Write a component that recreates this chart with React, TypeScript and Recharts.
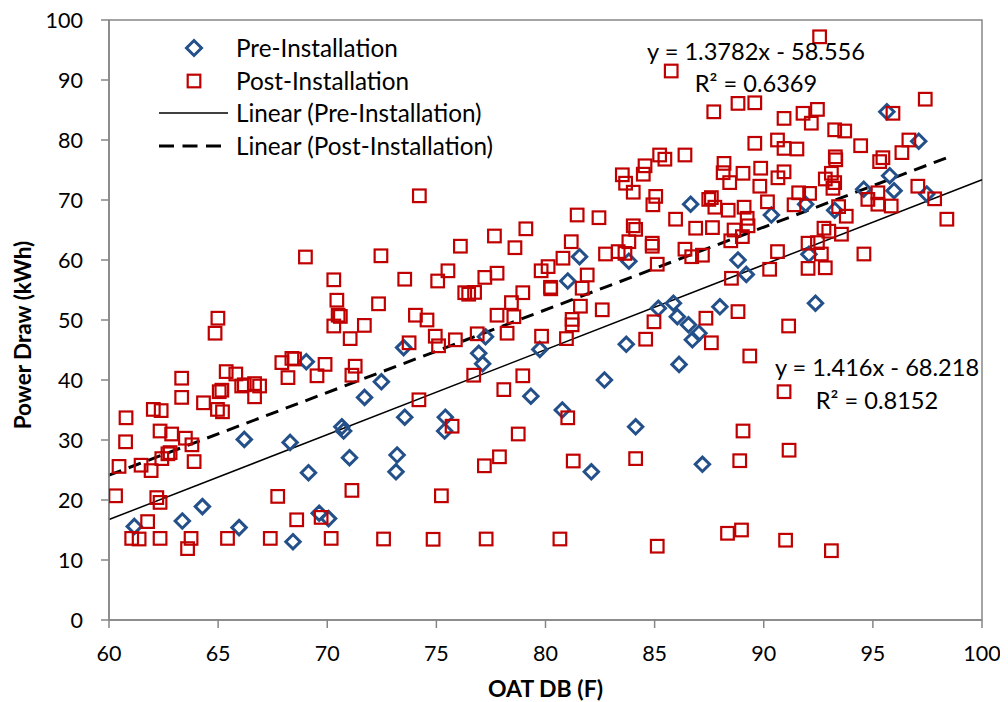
import React from 'react';
import { ScatterChart, Scatter, XAxis, YAxis, ReferenceLine, ReferenceArea, Label } from 'recharts';

// ---- Data ----
const preX = [61.16, 63.36, 64.28, 65.96, 66.2, 68.3, 68.43, 69.14, 69.04, 69.63, 70.06, 70.67, 70.75, 71.02, 71.71, 72.48, 73.2, 73.15, 73.55, 73.5,
  81.56, 83.82, 81.02, 85.17, 85.86, 86.04, 86.55, 86.65, 77.25, 76.94, 77.12, 79.74, 83.7, 75.41, 75.38, 79.33, 80.77, 82.7, 84.13, 82.1,
  86.12, 87.19, 86.73, 87.03, 95.64, 97.1, 95.77, 95.97, 94.58, 97.47, 91.92, 93.25, 90.35, 92.07, 88.82, 89.2, 92.37, 87.99];
const preY = [15.6, 16.5, 18.9, 15.4, 30.1, 29.6, 13.05, 24.55, 43.05, 17.8, 16.9, 32.2, 31.5, 27.05, 37.1, 39.7, 27.5, 24.7, 33.8, 45.4,
  60.55, 59.8, 56.5, 51.95, 52.8, 50.55, 49.2, 69.3, 47.2, 44.45, 42.7, 45.1, 45.95, 33.8, 31.5, 37.3, 35, 40, 32.2, 24.7,
  42.6, 25.95, 46.7, 47.8, 84.7, 79.8, 74.05, 71.55, 71.8, 71, 69.3, 68.3, 67.5, 60.95, 60, 57.6, 52.8, 52.2];

const postX = [60.78, 60.76, 60.46, 60.3, 61.47, 61.93, 62.03, 62.39, 62.34, 62.87, 62.42, 62.7, 62.8, 63.33, 63.33, 63.5, 63.8, 63.9, 64.33, 64.97,
  65.2, 65.05, 65.17, 65.37, 65.81, 66.08, 66.2, 66.67, 66.9, 66.67, 67.92, 68.38, 68.5, 68.2, 69.9, 69.53, 71.28, 71.13, 67.73, 68.6,
  69.72, 71.13, 62.19, 62.34, 61.77, 61.04, 61.38, 62.34, 63.76, 63.6, 65.43, 67.39, 70.18, 72.58, 64.86, 64.99, 70.3, 71.7, 71.05, 73.75,
  74.2, 69.0, 72.46, 70.3, 73.55, 70.44, 72.35, 70.5, 70.6,
  85.76, 74.22, 86.39, 85.23, 85.47, 84.56, 84.48, 83.52, 83.67, 84.02, 85.05, 84.92, 81.45, 82.45, 85.96, 86.88, 84.02, 84.13, 79.1, 77.66,
  76.1, 78.6, 81.18, 83.82, 84.89, 84.89, 86.39, 86.7, 87.19, 82.75, 83.33, 83.64, 85.12, 80.8, 80.12, 79.8, 81.91, 81.68, 80.23, 80.24,
  78.96, 78.44, 81.6, 82.6, 81.22, 81.22, 77.78, 78.55, 77.22, 77.78, 75.53, 75.06, 76.3, 76.48, 76.75, 74.04, 74.57, 74.95, 75.1, 75.87,
  76.87, 78.24, 79.82, 80.96, 84.59, 84.97, 76.71, 78.96, 78.09, 75.72, 78.75, 81.02, 77.89, 77.2, 81.27, 84.13, 75.23, 74.85, 77.28, 80.66,
  85.12,
  92.56, 97.4, 87.71, 88.82, 89.59, 90.93, 91.8, 92.46, 92.18, 95.92, 93.25, 93.71, 89.59, 90.63, 90.93, 91.52, 94.44, 96.65, 96.33, 95.46,
  95.31, 93.28, 93.3, 88.18, 88.14, 89.05, 89.86, 90.93, 90.65, 88.44, 89.82, 92.82, 93.1, 93.25, 93.17, 97.06, 95.23, 91.6, 92.1, 90.17,
  87.48, 87.6, 87.76, 88.37, 89.1, 89.24, 89.28, 88.64, 89.02, 88.49, 91.39, 93.43, 93.78, 94.77, 95.23, 95.84, 97.83, 98.39, 92.76, 92.98,
  93.56, 92.03, 92.46, 92.64, 90.63, 94.59, 92.03, 92.82, 90.27, 88.52, 88.82, 87.35, 91.14, 87.65, 87.6, 89.36, 90.93, 89.05, 91.16, 88.9,
  88.34, 88.98, 91.0, 93.1];
const postY = [33.7, 29.7, 25.6, 20.7, 25.8, 24.9, 35.1, 34.9, 31.5, 31.0, 26.9, 27.7, 27.9, 40.3, 37.1, 30.3, 29.2, 26.4, 36.2, 35.1,
  34.7, 38.05, 38.3, 41.4, 41.0, 39.0, 39.2, 39.4, 39.0, 37.2, 42.9, 43.6, 43.5, 40.4, 42.6, 40.7, 42.3, 40.8, 20.6, 16.7,
  17.1, 21.6, 20.4, 19.6, 16.4, 13.6, 13.5, 13.6, 13.6, 11.9, 13.6, 13.6, 13.6, 13.5, 47.8, 50.3, 49.0, 49.1, 46.9, 46.2,
  36.7, 60.5, 60.7, 56.7, 56.8, 53.3, 52.7, 50.8, 50.6,
  91.5, 70.7, 77.5, 77.5, 76.8, 75.7, 74.3, 74.2, 72.8, 71.3, 70.6, 69.2, 67.5, 67.05, 66.8, 65.3, 65.7, 65.1, 65.2, 64.0,
  62.3, 62.05, 63.05, 63.05, 62.8, 62.3, 61.8, 60.55, 60.8, 61.0, 61.4, 61.1, 59.3, 60.3, 58.9, 58.2, 57.5, 55.3, 55.45, 55.2,
  54.55, 52.9, 52.3, 51.7, 50.1, 49.2, 50.8, 50.55, 57.1, 57.8, 58.2, 56.5, 54.55, 54.3, 54.6, 50.8, 50.0, 47.3, 45.7, 46.7,
  47.7, 47.8, 47.3, 46.9, 46.8, 49.7, 40.8, 40.7, 38.4, 32.3, 31.0, 33.7, 27.2, 25.7, 26.5, 26.9, 20.7, 13.45, 13.5, 13.5,
  12.3,
  97.2, 86.8, 84.7, 86.1, 86.2, 83.6, 84.45, 85.1, 82.8, 84.45, 81.7, 81.5, 79.45, 80.0, 78.6, 78.5, 79.05, 80.0, 77.9, 77.05,
  76.4, 77.2, 76.7, 76.1, 74.55, 74.45, 75.3, 74.7, 73.7, 72.9, 72.3, 73.5, 74.45, 72.9, 71.95, 72.3, 71.2, 71.2, 71.1, 69.7,
  70.1, 70.4, 68.8, 68.3, 68.8, 66.95, 65.7, 65.0, 63.9, 63.2, 69.2, 68.9, 67.3, 70.1, 69.3, 69.0, 70.2, 66.8, 65.3, 64.8,
  64.3, 62.8, 62.9, 61.0, 61.4, 61.0, 58.6, 58.7, 58.45, 56.95, 51.4, 50.3, 49.0, 65.4, 46.2, 44.0, 38.05, 31.5, 28.3, 26.55,
  14.45, 15.0, 13.3, 11.55];

const xTicks = [60, 65, 70, 75, 80, 85, 90, 95, 100];
const yTicks = [0, 10, 20, 30, 40, 50, 60, 70, 80, 90, 100];

// trendline coefficients [slope, intercept] and x ranges
const preFit = [1.416, -68.218];
const postFit = [1.3782, -58.556];
const preTrendRange = [60, 100];
const postTrendRange = [60, 98.4];

const seriesNames = ['Pre-Installation', 'Post-Installation', 'Linear (Pre-Installation)', 'Linear (Post-Installation)'];
const preEquation = ['y = 1.416x - 68.218', 'R\u00B2 = 0.8152'];
const postEquation = ['y = 1.3782x - 58.556', 'R\u00B2 = 0.6369'];

const preData = preX.map((x, i) => ({ x, y: preY[i] }));
const postData = postX.map((x, i) => ({ x, y: postY[i] }));
const fitSegment = (fit: number[], range: number[]) => range.map((x) => ({ x, y: fit[0] * x + fit[1] }));

const BLUE = '#24508A';
const RED = '#C00000';
const AXIS = '#868686';
const FONT = 'Lato, "Open Sans", sans-serif';

const Diamond = (props: any) => {
  const { cx, cy } = props;
  const r = 7.2;
  return <path d={`M${cx},${cy - r}L${cx + r},${cy}L${cx},${cy + r}L${cx - r},${cy}Z`} fill="none" stroke={BLUE} strokeWidth={3} />;
};
const Square = (props: any) => {
  const { cx, cy } = props;
  const h = 6.3;
  return <rect x={cx - h} y={cy - h} width={2 * h} height={2 * h} fill="none" stroke={RED} strokeWidth={2.2} />;
};

const YTitle = () => (
  <text x={23} y={327} transform="rotate(-90 23 327)" textAnchor="middle" fontFamily={FONT} fontWeight={700} fontSize={22.5} fill="#000">
    Power Draw (kWh)
  </text>
);

const legendRow: React.CSSProperties = { display: 'flex', alignItems: 'center', height: 32.5 };
const textStyle: React.CSSProperties = { fontFamily: FONT, fontSize: 24.3, color: '#000', lineHeight: 1, whiteSpace: 'nowrap' };
const eqStyle: React.CSSProperties = { ...textStyle, fontSize: 23.6, position: 'absolute', transform: 'translate(-50%, -50%)' };

export default function App() {
  const preSeg = fitSegment(preFit, preTrendRange);
  const postSeg = fitSegment(postFit, postTrendRange);
  return (
    <div style={{ position: 'relative', width: 1000, height: 700, fontFamily: FONT }}>
      <ScatterChart width={1000} height={700} margin={{ top: 12, right: 26, bottom: 6, left: 0 }}>
        <XAxis
          type="number"
          dataKey="x"
          domain={[60, 100]}
          ticks={xTicks}
          interval={0}
          allowDataOverflow
          height={82}
          tickSize={8}
          tickMargin={18}
          axisLine={{ stroke: AXIS, strokeWidth: 1.5 }}
          tickLine={{ stroke: AXIS, strokeWidth: 1.5 }}
          tick={{ fill: '#000', fontSize: 21.5, fontFamily: FONT }}
        >
          <Label value="OAT DB (F)" position="insideBottom" offset={5} style={{ fontFamily: FONT, fontWeight: 700, fontSize: 23, fill: '#000' }} />
        </XAxis>
        <YAxis
          type="number"
          dataKey="y"
          domain={[0, 100]}
          ticks={yTicks}
          interval={0}
          allowDataOverflow
          width={101}
          tickSize={8}
          tickMargin={18}
          axisLine={{ stroke: AXIS, strokeWidth: 1.5 }}
          tickLine={{ stroke: AXIS, strokeWidth: 1.5 }}
          tick={{ fill: '#000', fontSize: 21.5, fontFamily: FONT }}
        >
          <Label content={<YTitle />} />
        </YAxis>
        <ReferenceArea x1={60} x2={100} y1={0} y2={100} fill="none" fillOpacity={0} stroke={AXIS} strokeWidth={1.5} />
        <Scatter name={seriesNames[0]} data={preData} shape={Diamond} isAnimationActive={false} />
        <Scatter name={seriesNames[1]} data={postData} shape={Square} isAnimationActive={false} />
        <ReferenceLine segment={preSeg} stroke="#000" strokeWidth={1.5} />
        <ReferenceLine segment={postSeg} stroke="#000" strokeWidth={3} strokeDasharray="13 8" />
      </ScatterChart>

      {/* Legend */}
      <div style={{ position: 'absolute', left: 151, top: 24 }}>
        <div style={legendRow}>
          <svg width={77} height={32}><path d="M35,8.5L42.5,16L35,23.5L27.5,16Z" fill="none" stroke={BLUE} strokeWidth={3} /></svg>
          <span style={textStyle}>{seriesNames[0]}</span>
        </div>
        <div style={legendRow}>
          <svg width={77} height={32}><rect x={28.7} y={9.7} width={12.6} height={12.6} fill="none" stroke={RED} strokeWidth={2.2} /></svg>
          <span style={textStyle}>{seriesNames[1]}</span>
        </div>
        <div style={legendRow}>
          <svg width={77} height={32}><line x1={0} y1={16} x2={69} y2={16} stroke="#000" strokeWidth={1.5} /></svg>
          <span style={textStyle}>{seriesNames[2]}</span>
        </div>
        <div style={legendRow}>
          <svg width={77} height={32}><line x1={0} y1={16} x2={62} y2={16} stroke="#000" strokeWidth={3} strokeDasharray="15 8.5" /></svg>
          <span style={textStyle}>{seriesNames[3]}</span>
        </div>
      </div>

      {/* Trendline equations */}
      <div style={{ ...eqStyle, left: 748, top: 44 }}>{postEquation[0]}</div>
      <div style={{ ...eqStyle, left: 748, top: 76 }}>{postEquation[1]}</div>
      <div style={{ ...eqStyle, left: 869, top: 360 }}>{preEquation[0]}</div>
      <div style={{ ...eqStyle, left: 869, top: 393 }}>{preEquation[1]}</div>
    </div>
  );
}
